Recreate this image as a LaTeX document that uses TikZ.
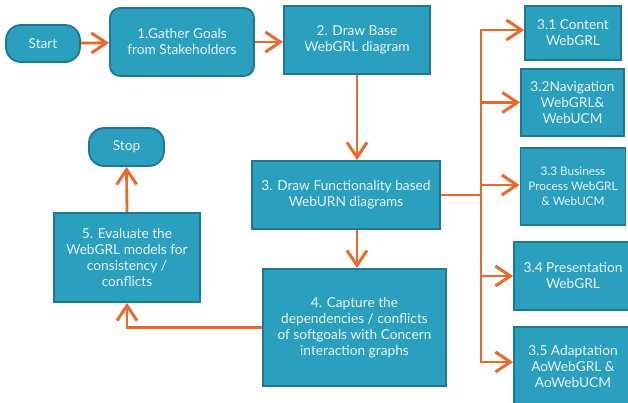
\documentclass[tikz,border=0pt]{standalone}
\usepackage{fontspec}
\setmainfont{Lato}
\usetikzlibrary{arrows.meta,calc}
\definecolor{boxfill}{HTML}{2AA0BE}
\definecolor{boxedge}{HTML}{1E7891}
\definecolor{boxtext}{HTML}{E8F4F8}
\definecolor{arrorange}{HTML}{E8692A}
\tikzset{
  stepbox/.style={draw=boxedge, line width=1.8pt, fill=boxfill, text=boxtext,
    align=center, inner sep=0pt, font=\fontsize{13.7}{16}\selectfont},
  pill/.style={stepbox, rounded corners=15pt},
  rbox/.style={stepbox, rounded corners=10pt},
  arr/.style={draw=arrorange, line width=2.8pt,
    -{Straight Barb[length=15pt,width=20pt,line width=3pt]}},
  trunk/.style={draw=arrorange, line width=2.8pt},
}
\begin{document}
\begin{tikzpicture}[x=1pt,y=-1pt]
\useasboundingbox (0,0) rectangle (628,403);
% nodes
\node[pill, minimum width=74pt, minimum height=37pt] (start) at (43,43.5) {Start};
\node[rbox, minimum width=144pt, minimum height=68pt] (b1) at (182,42) {1.Gather Goals\\from Stakeholders};
\node[stepbox, minimum width=146pt, minimum height=68pt] (b2) at (357,40) {2. Draw Base\\WebGRL diagram};
\node[stepbox, minimum width=96pt, minimum height=54pt] (c31) at (573,33) {3.1 Content\\WebGRL};
\node[stepbox, minimum width=103pt, minimum height=67pt] (c32) at (572.5,102.5) {3.2Navigation\\WebGRL\&\\WebUCM};
\node[stepbox, minimum width=105pt, minimum height=77pt, font=\fontsize{11.8}{15}\selectfont] (c33) at (573,186.5) {3.3 Business\\Process WebGRL\\\& WebUCM};
\node[stepbox, minimum width=118pt, minimum height=68pt] (c34) at (573,276) {3.4 Presentation\\WebGRL};
\node[stepbox, minimum width=118pt, minimum height=80pt] (c35) at (573,367) {3.5 Adaptation\\AoWebGRL \&\\AoWebUCM};
\node[stepbox, minimum width=188pt, minimum height=68pt] (b3) at (346,195) {3. Draw Functionality based\\WebURN diagrams};
\node[stepbox, minimum width=183pt, minimum height=117pt] (b4) at (354.5,327.5) {4. Capture the\\dependencies / conflicts\\of softgoals with Concern\\interaction graphs};
\node[stepbox, minimum width=146pt, minimum height=89pt] (b5) at (127,257.5) {5. Evaluate the\\WebGRL models for\\consistency /\\conflicts};
\node[pill, minimum width=75pt, minimum height=38pt] (stop) at (126.5,147) {Stop};
\coordinate (j) at (481,195);
% connectors
\draw[arr] (start) -- (b1);
\draw[arr] (b1.east |- 0,42) -- (b2.west |- 0,42);
\draw[arr] (b2.south) -- (b2.south |- b3.north);
\draw[arr] (b2.south |- b3.south) -- (b2.south |- b4.north);
\draw[trunk] (b3.east) -- (j);
\draw[arr] (j) |- (c31.west |- 0,30);
\draw[arr] (j) |- (c32.west);
\draw[arr] (j) |- (c33.west |- 0,185);
\draw[arr] (j) |- (c34.west);
\draw[arr] (j) |- (c35.west |- 0,362);
\draw[arr] (b4.west) -| (b5.south);
\draw[arr] (b5.north) -- (stop.south);
\end{tikzpicture}
\end{document}
